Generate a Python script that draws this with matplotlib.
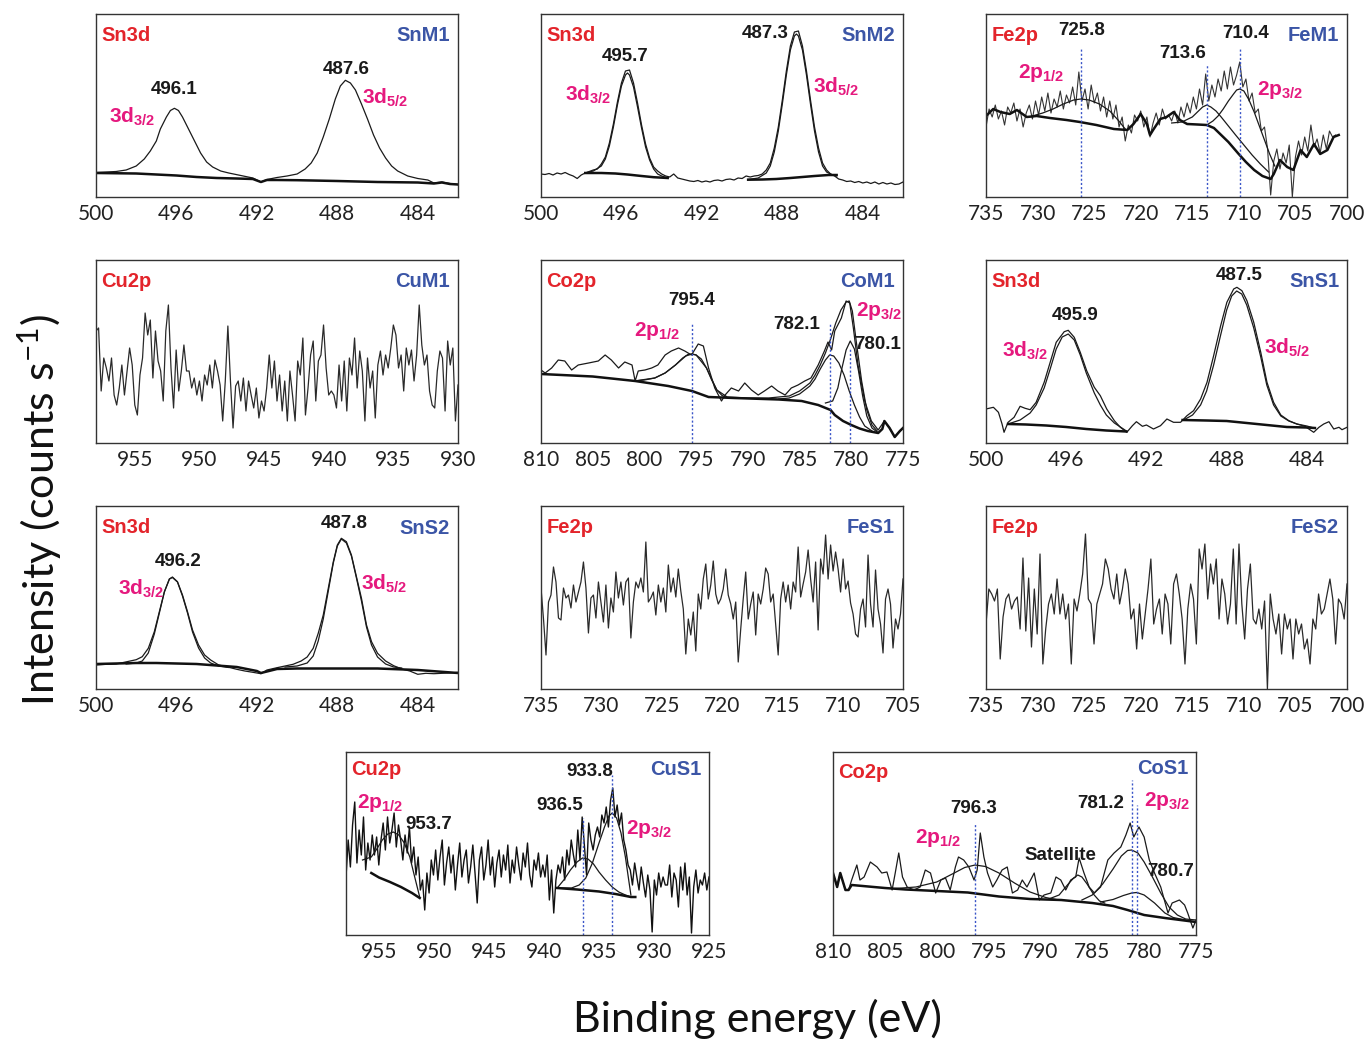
import numpy as np
import matplotlib
matplotlib.use("Agg")
import matplotlib.pyplot as plt

plt.rcParams['font.family'] = ['Lato', 'DejaVu Sans']
plt.rcParams['mathtext.fontset'] = 'custom'
plt.rcParams['mathtext.rm'] = 'Lato'
plt.rcParams['mathtext.bf'] = 'Liberation Sans:bold'
plt.rcParams['mathtext.it'] = 'Lato:italic'
BOLD = ['Liberation Sans', 'DejaVu Sans']

RED = '#e3242b'
BLUE = '#3b55a6'
PINK = '#e5197e'
DOT = '#3a55c8'

# ---------------- SnM1 ----------------
snm1_x = [500, 499, 498.5, 498, 497.6, 497.3, 497, 496.8, 496.5, 496.3, 496.1, 495.9, 495.7, 495.4,
          495.1, 494.8, 494.5, 494.2, 493.8, 493.4, 492.8, 492.2, 491.8, 491.5, 491, 490.5, 490,
          489.6, 489.3, 489, 488.7, 488.4, 488.1, 487.85, 487.6, 487.35, 487.1, 486.8, 486.5, 486.2,
          485.9, 485.6, 485.3, 485, 484.5, 484, 483.5, 483.2, 482.8, 482.4, 482]
snm1_fit = [24.5, 25.5, 27, 31, 38, 46, 56, 68, 80, 86.5, 88.7, 86.5, 80, 68, 56, 44, 35, 30, 26, 24,
            21.5, 19, 15, 17.5, 19.5, 21, 23, 28, 34, 44, 60, 78, 98, 111, 116.7, 114, 107, 93, 78,
            62, 49, 39, 31, 26, 21, 18.5, 17, 14, 15, 13.5, 12.5]
snm1_bg_x = [500, 498, 497, 496, 495, 494, 493, 492.2, 491.8, 491.5, 491, 490, 488, 486, 484, 483.2,
             482.8, 482.4, 482]
snm1_bg = [24, 23.5, 22.5, 21.5, 20, 19, 18.5, 18, 15, 17, 17, 16.8, 16, 15, 14.5, 13.5, 14.5, 13, 12.5]

# ---------------- SnM2 ----------------
snm2_raw = [23, 22.5, 23.5, 22, 24, 23, 24.5, 22.5, 21, 18.5,
            22, 24, 25.5, 27, 28, 33, 40, 54, 73, 95,
            114, 126, 127, 114, 94, 72, 53, 39, 30, 26,
            23, 21, 20, 23, 19, 18, 17, 16, 15.5, 16.5,
            15, 16, 15, 16.5, 17, 16, 17.5, 18, 17, 19,
            18.5, 21, 20, 21, 21.5, 23, 27, 34, 49, 70,
            97, 126, 151, 165, 166, 151, 126, 97, 70, 49,
            34, 27, 23, 21, 18, 17, 15.5, 16, 14.5, 15.5,
            14, 15, 13.5, 15, 13, 14.5, 13, 14, 12.5, 13, 15]
snm2_f1_x = [497.8, 497.4, 497.0, 496.8, 496.6, 496.4, 496.2, 496.0, 495.8, 495.7, 495.6, 495.4,
             495.2, 495.0, 494.8, 494.6, 494.4, 494.2, 494.0, 493.7]
snm2_f1 = [24, 26, 31, 38, 51, 70, 92, 111, 122, 124, 122, 110, 90, 69, 50, 37, 28, 23, 21, 19]
snm2_f2_x = [489.7, 489.2, 488.8, 488.6, 488.4, 488.2, 488.0, 487.8, 487.6, 487.4, 487.3, 487.2,
             487.0, 486.8, 486.6, 486.4, 486.2, 486.0, 485.8, 485.5, 485.3]
snm2_f2 = [17.5, 19, 24, 31, 45, 66, 93, 122, 147, 161, 163, 161, 147, 122, 93, 66, 45, 31, 25, 22, 21]
snm2_bg1_x = [497.8, 497.0, 496.3, 495.7, 495.0, 494.4, 493.7]
snm2_bg1 = [24, 24, 23.5, 22.5, 21, 19.8, 19]
snm2_bg2_x = [489.7, 489.0, 488.3, 487.6, 487.0, 486.4, 485.7, 485.3]
snm2_bg2 = [17.3, 17.5, 18, 19, 20, 21, 22, 22]

# ---------------- FeM1 ----------------
fem1_raw = [70, 88, 80, 92, 78, 86, 72, 90, 84, 94,
            76, 88, 70, 84, 92, 78, 96, 82, 100, 86,
            104, 84, 98, 90, 106, 88, 102, 94, 110, 92,
            125, 96, 108, 88, 112, 94, 104, 86, 100, 80,
            96, 78, 92, 70, 80, 56, 72, 64, 82, 76,
            86, 70, 80, 60, 74, 84, 72, 88, 78, 82,
            76, 86, 74, 90, 80, 94, 84, 100, 88, 108,
            92, 123, 96, 112, 100, 118, 106, 126, 108, 130,
            112, 122, 135, 110, 118, 96, 104, 84, 88, 66,
            70, 48, 2, 36, 48, 28, 44, 34, 52, 0,
            40, 56, 42, 60, 46, 72, 50, 58, 44, 62,
            48, 66, 60, 62]
fem1_thick_x = [734.9, 734.3, 733.6, 732.7, 732.0, 731.05, 730.1, 728.8, 727.2, 725.9, 724.3, 722.6,
                721.3, 720.7, 720.0, 719.4, 719.1, 718.8, 718.1, 717.5, 716.8, 716.2, 715.5, 714.5,
                713.6, 712.9, 712.3, 711.5, 710.5, 709.8, 709.0, 708.2, 707.4, 707.1, 706.5, 705.8,
                705.2, 704.5, 703.9, 703.2, 702.6, 701.9, 701.3, 700.8]
fem1_thick = [82, 88, 85, 83, 87, 80, 81, 79, 77, 75, 72, 68, 67, 73, 83, 73, 62, 67, 78, 80, 85, 77,
              73, 72.5, 72, 69, 63, 55, 43, 35, 27, 21, 18, 23, 37, 30, 27, 47, 40, 53, 43, 47, 60, 62]
fem1_c1_x = [730.5, 729.5, 728.5, 727.5, 726.5, 725.8, 725, 724, 723, 722.2, 721.5]
fem1_c1 = [81, 84, 88, 93, 97, 98, 97, 93, 86, 77, 68]
fem1_c2_x = [717, 716, 715, 714.5, 714, 713.6, 713.2, 712.7, 712.2, 711.5, 710.8, 710, 709.2, 708.4, 707.6]
fem1_c2 = [74, 75, 80, 85, 90, 92, 90, 86, 80, 71, 62, 52, 42, 33, 25]
fem1_c3_x = [714, 713.6, 713, 712.5, 712, 711.5, 711, 710.7, 710.4, 710, 709.5, 709, 708.5, 708,
             707.5, 707]
fem1_c3 = [72, 72, 76, 81, 88, 96, 103, 107, 108, 106, 97, 85, 71, 57, 43, 31]

# ---------------- CuM1 ----------------
cum1_raw = [112, 115, 52, 85, 75, 62, 85, 48, 38, 55, 78, 48, 72, 95, 78, 38, 28, 68, 85,
            130, 108, 123, 65, 112, 82, 72, 42, 112, 138,
            75, 35, 93, 52, 72, 98, 72, 72, 55, 65, 48, 62, 42, 68,
            58, 78, 55, 83, 72, 58, 22, 62, 117, 62, 15,
            57, 62, 42, 65, 32, 62, 48, 35, 55, 25, 42, 32, 55,
            88, 55, 82, 42, 68, 32, 62, 22, 72, 48, 22, 82, 68,
            105, 28, 55, 88, 102, 42, 82, 88, 118, 75, 48, 52,
            48, 35, 78, 42, 82, 32, 85, 68, 105, 55, 92, 72,
            22, 85, 55, 72, 25, 78, 92, 68, 88, 75, 95, 118,
            108, 75, 88, 52, 95, 78, 93, 62, 88, 138, 98, 78, 88,
            52, 38, 35, 72, 92, 85, 32, 102, 78, 95, 22, 58]

# ---------------- CoM1 ----------------
com1_x = [810.0, 809.6, 808.97, 808.33, 807.7, 807.04, 806.4, 805.4, 804.46, 803.8, 803.2, 802.5,
          801.9, 801.2, 800.9, 800.6, 799.95, 799.3, 798.7, 798.0, 797.4, 796.7, 796.1, 795.45,
          794.8, 794.3, 793.8, 793.2, 792.55, 792.2, 791.6, 790.9, 790.3, 789.65, 789.0, 788.4,
          787.7, 787.1, 786.4, 785.8, 785.15, 784.5, 783.9, 783.2, 782.6, 782.25, 781.9, 781.6,
          780.96, 780.5, 780.15, 779.8, 779.35, 778.7, 778.06, 777.4, 776.8, 776.3, 775.8, 775.3, 775.0]
com1_raw = [73, 70, 75, 83, 82, 73, 78, 80, 82, 88, 83, 75, 81, 78, 62, 72, 73, 75, 78, 88, 92, 95,
            92, 88, 99, 97, 75, 55, 42, 48, 55, 52, 60, 53, 48, 52, 57, 52, 48, 55, 58, 62, 65, 78,
            92, 101, 93, 112, 125, 142, 140, 115, 78, 42, 22, 13, 22, 15, 6, 12, 15]
com1_bg_x = [810, 805, 800.9, 797.7, 795.4, 793.8, 791.3, 787, 784.8, 783.2, 782, 781.6, 780.8, 780,
             779.2, 778.4, 777.4, 777, 776.8, 776.3, 775.8, 775.3, 775]
com1_bg = [69, 66.5, 62, 57, 52, 46, 45, 43.5, 42, 38, 33, 28, 22, 18, 14.5, 12, 10, 14, 22, 15, 6, 12, 15]
com1_c1_x = [801, 800, 799, 798, 797, 796.3, 795.8, 795.4, 795, 794.5, 794, 793.5, 793, 792.5, 792]
com1_c1 = [62, 63, 65, 70, 78, 85, 88.5, 89, 88, 84, 75, 63, 53, 47.5, 45.5]
com1_c2_x = [787, 786, 785, 784, 783.5, 783, 782.5, 782.1, 781.7, 781.2, 780.7, 780.2, 779.7, 779.2,
             778.7, 778]
com1_c2 = [44, 45, 49, 57, 64, 74, 83, 88, 87, 80, 68, 52, 38, 26, 17, 12]
com1_c3_x = [782.5, 781.8, 781.3, 780.9, 780.5, 780.1, 779.7, 779.3, 778.9, 778.5, 778, 777.5]
com1_c3 = [40, 42, 55, 75, 93, 102, 94, 72, 47, 27, 15, 11]
com1_env_x = [801, 799, 798, 797, 796, 795.4, 795, 794, 793, 792, 790, 788, 786, 785, 784, 783.5,
              783, 782.5, 782, 781.5, 781, 780.5, 780.2, 779.9, 779.5, 779, 778.5, 778, 777.5]
com1_env = [62, 65, 70, 78, 87, 89, 88, 75, 53, 46, 45, 45, 47, 52, 60, 68, 78, 90, 104, 120, 133,
            141, 142, 132, 100, 62, 33, 18, 12]

# ---------------- SnS1 ----------------
sns1_x = [500.0, 499.63, 499.38, 499.2, 499.1, 498.9, 498.6, 498.3, 498.05, 497.8, 497.5, 497.1,
          496.8, 496.5, 496.1, 495.9, 495.6, 495.3, 494.98, 494.6, 494.3, 493.98, 493.6, 493.3,
          492.98, 492.7, 492.5, 492.2, 492.0, 491.65, 491.3, 490.98, 490.65, 490.3, 489.98, 489.65,
          489.3, 488.98, 488.65, 488.3, 487.99, 487.65, 487.49, 487.24, 486.99, 486.65, 486.3,
          485.99, 485.66, 485.3, 484.9, 484.5, 484.1, 483.66, 483.4, 483.16, 482.9, 482.66, 482.4,
          482.25, 482.0]
sns1_raw = [34, 35.7, 30.7, 19, 10.7, 20.7, 25.7, 36.7, 34.7, 33.3, 40.7, 60.7, 80.7, 100.7, 111.3,
            112.7, 105.7, 90.7, 72.3, 55.7, 47.3, 34, 22.3, 15.7, 10.7, 17.3, 21.3, 16.7, 18, 14,
            17.3, 24, 20.7, 20.7, 27.3, 32.3, 44, 60.7, 87.3, 117.3, 140.7, 154, 155.7, 152.3,
            142.3, 120.7, 90.7, 60.7, 40.7, 28, 22.3, 19, 16.7, 10.7, 15.7, 19, 21.3, 14, 15.7,
            13.3, 15.7]
sns1_f1_x = [498.9, 498.3, 497.8, 497.5, 497.1, 496.8, 496.5, 496.2, 495.9, 495.6, 495.3, 495,
             494.6, 494.3, 494, 493.6, 493.3, 493]
sns1_f1 = [19, 23, 30, 38, 55, 74, 94, 106, 109, 103, 88, 70, 50, 38, 28, 20, 16, 12]
sns1_f2_x = [490.15, 489.7, 489.3, 489, 488.65, 488.3, 488, 487.75, 487.5, 487.25, 487, 486.65,
             486.3, 486, 485.66, 485.3, 484.9, 484.5, 484, 483.66]
sns1_f2 = [23, 28, 38, 52, 78, 108, 133, 147, 152, 149, 138, 115, 86, 58, 38, 27, 22, 19, 17, 15]
sns1_bg1_x = [498.9, 498, 497, 496, 495, 494, 493]
sns1_bg1 = [19, 18.5, 17.5, 16, 14, 12.5, 11.5]
sns1_bg2_x = [490.2, 489, 488, 487, 486, 485, 484, 483.6]
sns1_bg2 = [23, 22.5, 22, 20, 18, 16, 15.5, 15]

# ---------------- SnS2 ----------------
sns2_x = [500, 499.5, 499, 498.6, 498.3, 498.0, 497.7, 497.4, 497.1, 496.85, 496.6, 496.35, 496.2,
          495.95, 495.7, 495.45, 495.2, 494.9, 494.6, 494.3, 493.9, 493.4, 493.0, 492.6, 492.2,
          491.8, 491.5, 491.0, 490.6, 490.2, 489.8, 489.5, 489.2, 488.95, 488.7, 488.45, 488.2,
          488.0, 487.8, 487.55, 487.3, 487.05, 486.8, 486.55, 486.3, 486.0, 485.6, 485.2, 484.8,
          484.4, 484.0, 483.6, 483.2, 482.8, 482.4, 482.0]
sns2_raw = [24, 24.7, 25, 26.7, 28, 29.3, 32.3, 40.7, 57.3, 77.3, 97.3, 110, 112, 107.3, 94, 77.3,
            59, 44, 34, 29, 24, 21.7, 19.7, 18, 16.7, 15.3, 19, 21.3, 23, 24.7, 28, 32, 40.7, 55.7,
            74, 100.7, 127.3, 144, 150.7, 147.3, 134, 112.3, 90.7, 64, 47.3, 35.7, 28, 23.3, 20,
            18, 14.7, 15.7, 15.3, 15.7, 16, 16.7]
sns2_f1_x = [498.5, 498, 497.7, 497.4, 497.1, 496.85, 496.6, 496.35, 496.2, 495.95, 495.7, 495.45,
             495.2, 494.9, 494.6, 494.3, 493.9, 493.4]
sns2_f1 = [25, 26, 28, 36, 55, 76, 97, 110, 111.5, 107, 93, 76, 57, 41, 31, 26, 23, 21.5]
sns2_f2_x = [490.6, 490, 489.5, 489.2, 488.95, 488.7, 488.45, 488.2, 488, 487.8, 487.55, 487.3,
             487.05, 486.8, 486.55, 486.3, 486, 485.6, 485.2, 484.8]
sns2_f2 = [22, 23, 26, 33, 48, 70, 98, 126, 143, 150, 146, 133, 111, 88, 62, 44, 32, 25, 22, 21]
sns2_bg_x = [500, 498, 497, 495, 493, 492, 491.8, 491, 490, 488, 486, 484, 482]
sns2_bg = [25, 26, 26, 25, 22, 18, 16, 20, 20.5, 20.5, 20.5, 19, 16]

# ---------------- FeS1 / FeS2 ----------------
fes1_raw = [101, 70, 34, 87, 94, 122, 107, 71, 69, 101,
            91, 94, 81, 104, 87, 97, 107, 127, 101, 56,
            91, 94, 71, 107, 87, 67, 104, 61, 91, 77,
            117, 91, 107, 84, 107, 111, 51, 87, 107, 101,
            111, 97, 147, 87, 91, 97, 74, 104, 87, 101,
            77, 124, 97, 111, 92, 120, 98, 80, 35, 70,
            54, 77, 38, 95, 80, 110, 125, 90, 104, 128,
            95, 85, 90, 100, 120, 94, 85, 70, 87, 27,
            60, 90, 117, 70, 85, 97, 54, 95, 85, 100,
            121, 115, 87, 95, 65, 34, 90, 107, 87, 104,
            80, 107, 97, 142, 92, 105, 117, 139, 110, 87,
            127, 59, 130, 115, 154, 110, 144, 118, 137, 120,
            97, 130, 100, 108, 86, 75, 55, 52, 80, 90,
            62, 134, 85, 62, 119, 80, 65, 36, 90, 100,
            85, 41, 70, 60, 75, 110]
fes2_raw = [65, 100, 95, 88, 100, 30, 72, 90, 95, 80, 88, 92, 60, 131, 58, 111, 42, 100, 55, 135,
            25, 60, 85, 95, 75, 110, 75, 95, 70, 85, 25, 90, 78, 95, 115, 155,
            90, 85, 45, 85, 95, 105, 130, 120, 100, 90, 115, 85, 100, 120, 105, 70, 80, 40, 85, 50,
            75, 100, 130, 65, 80, 90, 55, 95, 85, 45, 105, 115, 95, 70, 25, 80, 105, 90, 45, 140,
            120, 145, 90, 125, 105, 130, 70, 110, 95, 65, 85, 140, 65, 145, 85, 50, 100, 125, 70,
            65, 80, 60, 88,
            0, 95, 70, 55, 75, 35, 75, 60, 70, 30, 70, 55, 65, 40, 50, 25, 70, 60, 95, 75, 80, 95,
            110, 90, 45, 90, 85, 70, 105]

# ---------------- CuS1 ----------------
cus1_raw = [58, 95, 68, 110, 133, 72, 105, 80, 118, 65, 92, 75, 100,
            80, 98, 70, 95, 112, 85, 118, 92, 105, 122, 88, 110, 95, 75, 100, 82, 108, 72,
            88, 60, 78, 45, 55, 25, 62, 42,
            75, 60, 85, 55, 78, 95, 50, 72, 88, 62, 80, 45, 70, 92, 58, 75, 85, 52, 68, 90, 62, 32,
            75, 88, 55, 70, 95, 60, 78, 48, 72, 85, 58, 80, 65, 90, 52, 75, 62, 88, 70, 55, 82, 68,
            92, 60, 48, 75, 65, 82, 58, 70,
            58, 80, 35, 65, 22, 55, 70,
            62, 78, 55, 85, 70, 95, 80, 68, 105, 75, 118, 90, 60, 112, 95, 85, 100, 108,
            98, 120, 112, 128, 108, 135, 147, 118, 130, 110, 122, 95, 85,
            70, 65, 50, 72, 58, 45, 68, 52, 38, 60, 45, 3, 55, 40, 62, 48, 58, 50,
            50, 70, 38, 62, 55, 28, 68, 45, 72, 40, 58, 2, 48, 65, 42, 55, 50, 62, 45, 58]
cus1_c0_x = [956.5, 955.7, 955.2, 954.7, 954.2, 953.7, 953.2, 952.7, 952.2, 951.8, 951.3]
cus1_c0 = [75, 78, 86, 95, 101, 103, 100, 92, 78, 60, 38]
cus1_bg1_x = [955.7, 955, 954, 953, 952, 951.3]
cus1_bg1 = [62, 57.5, 53, 48, 42, 37]
cus1_c1_x = [938.8, 938.2, 937.6, 937.0, 936.5, 936.0, 935.5, 935.0, 934.4, 933.8, 933.2, 932.6, 932.1]
cus1_c1 = [47, 55, 65, 73, 77, 76, 71, 63, 55, 48, 43, 40, 38]
cus1_c2_x = [938.8, 937.5, 936.8, 936.2, 935.6, 935.0, 934.5, 934.1, 933.8, 933.4, 933.0, 932.6,
             932.3, 932.1]
cus1_c2 = [47, 47, 50, 57, 72, 92, 108, 119, 122, 117, 102, 78, 55, 40]
cus1_bg2_x = [938.8, 937, 935, 933.5, 932.1, 931.7]
cus1_bg2 = [47, 45.5, 43.5, 41, 38, 38]

# ---------------- CoS1 ----------------
cos1_x = [810, 809.6, 809.3, 808.8, 808.5, 808.2, 807.7, 807.4, 807.0, 806.4, 805.75, 805.3, 804.8,
          804.3, 804.0, 803.66, 803.3, 802.85, 802.2, 801.6, 801.1, 800.6, 800.1, 799.6, 799.15,
          798.7, 798.2, 797.9, 797.4, 796.9, 796.4, 796.1, 795.8, 795.45, 795.1, 794.6, 794.2,
          793.7, 793.2, 792.7, 792.2, 791.75, 791.3, 790.6, 790.1, 789.65, 789.0, 788.5, 788.04,
          787.56, 787.08, 786.6, 786.27, 785.8, 785.3, 784.8, 784.2, 783.5, 782.9, 782.25, 781.76,
          781.35, 781.0, 780.5, 780.0, 779.5, 779.0, 778.4, 777.7, 777.3, 776.6, 776.1, 775.8,
          775.3, 775.0]
cos1_raw = [62, 48, 62, 45, 45, 55, 70, 55, 58, 73, 68, 62, 63, 45, 62, 82, 58, 48, 45, 48,
            65, 62, 42, 55, 57, 45, 68, 78, 75, 68, 55, 65, 102, 78, 62, 48, 55, 65, 68, 42,
            45, 55, 48, 62, 35, 40, 42, 58, 55, 45, 55, 58, 77, 62, 48, 42, 48, 75, 82, 88,
            100, 112, 98, 108, 98, 75, 62, 48, 22, 32, 35, 30, 22, 7, 15]
cos1_bg_x = [810, 809.6, 809.3, 808.8, 808.5, 808.2, 805, 803, 800, 797, 794, 791, 788, 785, 783,
             781.6, 780, 778, 775]
cos1_bg = [62, 48, 62, 45, 45, 50, 47, 45.5, 44, 42.5, 38.5, 36, 35, 32, 29, 25, 20, 17, 13]
cos1_c1_x = [804, 802, 800, 798.5, 797.3, 796.3, 795.3, 794, 792.5, 791, 789.5, 788.5]
cos1_c1 = [46.5, 48, 53, 61, 67.5, 70, 68.5, 62, 52, 43, 37.5, 35.5]
cos1_sat_x = [789.2, 788.2, 787.4, 786.8, 786.4, 786, 785.5, 784.9, 784.3, 783.8]
cos1_sat = [36, 40, 50, 57, 60, 58, 51, 41, 34, 32]
cos1_c2_x = [786, 785, 784, 783, 782.2, 781.6, 781.2, 780.6, 780, 779.2, 778.4, 777.6, 776.8, 776, 775]
cos1_c2 = [35, 40, 51, 66, 79, 84.5, 85, 82, 73, 58, 42, 28, 20, 16, 15]
cos1_c3_x = [784.2, 783, 782, 781.2, 780.7, 780, 779, 778, 777.2, 776]
cos1_c3 = [33, 35.5, 39.5, 42, 42.5, 40, 32, 22, 17.5, 15]

SN_TICKS = [500, 496, 492, 488, 484]
FE_TICKS = [735, 730, 725, 720, 715, 710, 705, 700]
CO_TICKS = [810, 805, 800, 795, 790, 785, 780, 775]


def make_ax(fig, left, top, width, xlim, ticks):
    ax = fig.add_axes([left / 1365, 1 - (top + 183) / 1042, width / 1365, 183 / 1042])
    ax.set_xlim(*xlim)
    ax.set_ylim(0, 183)
    ax.set_xticks(ticks)
    ax.set_yticks([])
    ax.tick_params(axis='x', length=0, pad=5, labelsize=15, labelcolor='#222222')
    for s in ax.spines.values():
        s.set_color('#333333')
        s.set_linewidth(1.0)
    return ax


def thin(ax, x, y, c='#1a1a1a', lw=0.9):
    ax.plot(x, y, color=c, lw=lw)


def thick(ax, x, y):
    ax.plot(x, y, color='#111111', lw=1.8)


def tags(ax, left, right, ly=0.885, ry=0.885):
    ax.text(0.015, ly, left, transform=ax.transAxes, color=RED, fontsize=14.5, weight='bold',
            family=BOLD, ha='left', va='center')
    ax.text(0.978, ry, right, transform=ax.transAxes, color=BLUE, fontsize=14.5, weight='bold',
            family=BOLD, ha='right', va='center')


def num(ax, x, y, s):
    ax.text(x, y, s, transform=ax.transAxes, fontsize=13.5, weight='bold', color='#1a1a1a',
            family=BOLD, ha='center', va='center')


def orb(ax, x, y, main, sub):
    ax.text(x, y, r'$\mathbf{%s_{%s}}$' % (main, sub), transform=ax.transAxes, fontsize=15,
            color=PINK, ha='center', va='center')


def vline(ax, x, top):
    ax.vlines(x, 0, top, colors=DOT, linestyles=(0, (1.5, 1.5)), lw=1.0)


fig = plt.figure(figsize=(13.65, 10.42), dpi=100)

# SnM1
ax = make_ax(fig, 96, 14, 362, (500, 482), SN_TICKS)
thin(ax, snm1_x, snm1_fit)
thick(ax, snm1_bg_x, snm1_bg)
tags(ax, 'Sn3d', 'SnM1')
num(ax, 0.215, 0.585, '496.1')
num(ax, 0.69, 0.695, '487.6')
orb(ax, 0.10, 0.44, '3d', '3/2')
orb(ax, 0.80, 0.54, '3d', '5/2')

# SnM2
ax = make_ax(fig, 541, 14, 362, (500, 482), SN_TICKS)
thin(ax, np.linspace(500, 482, len(snm2_raw)), snm2_raw)
thin(ax, snm2_f1_x, snm2_f1)
thin(ax, snm2_f2_x, snm2_f2)
thick(ax, snm2_bg1_x, snm2_bg1)
thick(ax, snm2_bg2_x, snm2_bg2)
tags(ax, 'Sn3d', 'SnM2')
num(ax, 0.232, 0.766, '495.7')
num(ax, 0.618, 0.894, '487.3')
orb(ax, 0.13, 0.557, '3d', '3/2')
orb(ax, 0.816, 0.602, '3d', '5/2')

# FeM1
ax = make_ax(fig, 986, 14, 361, (735, 700), FE_TICKS)
thin(ax, np.linspace(735, 701.1, len(fem1_raw)), fem1_raw, c='#333333', lw=0.8)
thin(ax, fem1_c1_x, fem1_c1)
thin(ax, fem1_c2_x, fem1_c2)
thin(ax, fem1_c3_x, fem1_c3)
thick(ax, fem1_thick_x, fem1_thick)
for xv, tp in [(725.8, 148), (713.6, 132), (710.4, 150)]:
    vline(ax, xv, tp)
tags(ax, 'Fe2p', 'FeM1')
num(ax, 0.265, 0.909, '725.8')
num(ax, 0.545, 0.785, '713.6')
num(ax, 0.718, 0.894, '710.4')
orb(ax, 0.154, 0.675, '2p', '1/2')
orb(ax, 0.815, 0.584, '2p', '3/2')

# CuM1
ax = make_ax(fig, 96, 260, 362, (958, 930), [955, 950, 945, 940, 935, 930])
thin(ax, np.linspace(958, 930, len(cum1_raw)), cum1_raw, c='#2a2a2a', lw=0.9)
tags(ax, 'Cu2p', 'CuM1', 0.88, 0.88)

# CoM1
ax = make_ax(fig, 541, 260, 362, (810, 775), CO_TICKS)
thin(ax, com1_x, com1_raw)
thin(ax, com1_env_x, com1_env)
thin(ax, com1_c1_x, com1_c1)
thin(ax, com1_c2_x, com1_c2)
thin(ax, com1_c3_x, com1_c3)
thick(ax, com1_bg_x, com1_bg)
for xv, tp in [(795.4, 120), (782.1, 120), (780.1, 95)]:
    vline(ax, xv, tp)
tags(ax, 'Co2p', 'CoM1', 0.88, 0.88)
num(ax, 0.416, 0.78, '795.4')
num(ax, 0.705, 0.645, '782.1')
num(ax, 0.93, 0.536, '780.1')
orb(ax, 0.32, 0.61, '2p', '1/2')
orb(ax, 0.935, 0.72, '2p', '3/2')

# SnS1
ax = make_ax(fig, 986, 260, 361, (500, 482), SN_TICKS)
thin(ax, sns1_x, sns1_raw)
thin(ax, sns1_f1_x, sns1_f1)
thin(ax, sns1_f2_x, sns1_f2)
thick(ax, sns1_bg1_x, sns1_bg1)
thick(ax, sns1_bg2_x, sns1_bg2)
tags(ax, 'Sn3d', 'SnS1')
num(ax, 0.247, 0.695, '495.9')
num(ax, 0.70, 0.913, '487.5')
orb(ax, 0.108, 0.504, '3d', '3/2')
orb(ax, 0.834, 0.522, '3d', '5/2')

# SnS2
ax = make_ax(fig, 96, 506, 362, (500, 482), SN_TICKS)
thin(ax, sns2_x, sns2_raw)
thin(ax, sns2_f1_x, sns2_f1)
thin(ax, sns2_f2_x, sns2_f2)
thick(ax, sns2_bg_x, sns2_bg)
tags(ax, 'Sn3d', 'SnS2', 0.885, 0.876)
num(ax, 0.226, 0.695, '496.2')
num(ax, 0.687, 0.904, '487.8')
orb(ax, 0.125, 0.55, '3d', '3/2')
orb(ax, 0.797, 0.576, '3d', '5/2')

# FeS1
ax = make_ax(fig, 541, 506, 362, (735, 705), [735, 730, 725, 720, 715, 710, 705])
thin(ax, np.linspace(735, 705, len(fes1_raw)), fes1_raw, c='#2a2a2a', lw=0.9)
tags(ax, 'Fe2p', 'FeS1')

# FeS2
ax = make_ax(fig, 986, 506, 361, (735, 700), FE_TICKS)
thin(ax, np.linspace(735, 700, len(fes2_raw)), fes2_raw, c='#2a2a2a', lw=0.9)
tags(ax, 'Fe2p', 'FeS2')

# CuS1
ax = make_ax(fig, 346, 752, 363, (958, 925), [955, 950, 945, 940, 935, 930, 925])
thin(ax, np.linspace(958, 925, len(cus1_raw)), cus1_raw, c='#111111', lw=1.0)
thin(ax, cus1_c0_x, cus1_c0)
thin(ax, cus1_c1_x, cus1_c1)
thin(ax, cus1_c2_x, cus1_c2)
thick(ax, cus1_bg1_x, cus1_bg1)
thick(ax, cus1_bg2_x, cus1_bg2)
for xv, tp in [(936.5, 117), (933.8, 160)]:
    vline(ax, xv, tp)
tags(ax, 'Cu2p', 'CuS1', 0.904, 0.904)
num(ax, 0.227, 0.606, '953.7')
num(ax, 0.59, 0.705, '936.5')
num(ax, 0.673, 0.895, '933.8')
orb(ax, 0.094, 0.723, '2p', '1/2')
orb(ax, 0.834, 0.579, '2p', '3/2')

# CoS1
ax = make_ax(fig, 833, 752, 363, (810, 775), CO_TICKS)
thin(ax, cos1_x, cos1_raw)
thin(ax, cos1_c1_x, cos1_c1)
thin(ax, cos1_sat_x, cos1_sat)
thin(ax, cos1_c2_x, cos1_c2)
thin(ax, cos1_c3_x, cos1_c3)
thick(ax, cos1_bg_x, cos1_bg)
for xv, tp in [(796.3, 112), (781.2, 155), (780.7, 130)]:
    vline(ax, xv, tp)
tags(ax, 'Co2p', 'CoS1', 0.89, 0.91)
num(ax, 0.388, 0.69, '796.3')
num(ax, 0.627, 0.437, 'Satellite')
num(ax, 0.738, 0.72, '781.2')
num(ax, 0.93, 0.346, '780.7')
orb(ax, 0.29, 0.53, '2p', '1/2')
orb(ax, 0.92, 0.73, '2p', '3/2')

fig.text(0.029, 0.51, r'Intensity (counts s$^{\mathregular{-1}}$)', rotation=90, fontsize=31,
         ha='center', va='center', color='#111111')
fig.text(0.555, 0.022, 'Binding energy (eV)', fontsize=31, ha='center', va='center',
         color='#111111')

fig.savefig('out.png', dpi=100)
